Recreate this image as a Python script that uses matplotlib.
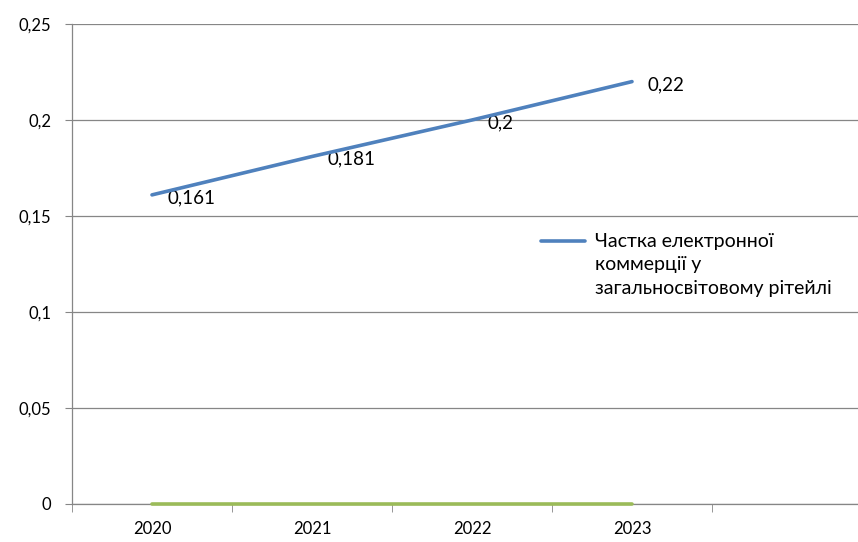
import matplotlib
matplotlib.use('Agg')
import matplotlib.pyplot as plt
from matplotlib.ticker import FuncFormatter, FixedLocator
from matplotlib.lines import Line2D

plt.rcParams['font.family'] = ['Lato', 'DejaVu Sans']

# ---- data ----
years = ['2020', '2021', '2022', '2023']
ecom_share = [0.161, 0.181, 0.2, 0.22]
zero_series = [0, 0, 0, 0]
legend_label = 'Частка електронної\nкоммерції у\nзагальносвітовому рітейлі'

BLUE = '#4F81BD'
GREEN = '#9BBB59'
GRID = '#868686'

fig = plt.figure(figsize=(8.58, 5.42), dpi=100)
W, H = 858, 542
ax = fig.add_axes([72 / W, (H - 504) / H, (W - 72) / W, 480 / H])

x = list(range(len(years)))
ax.plot(x, zero_series, color=GREEN, linewidth=2.6, solid_capstyle='round',
        zorder=3, clip_on=False)
ax.plot(x, ecom_share, color=BLUE, linewidth=2.6, solid_capstyle='round', zorder=4)

# data labels
for xi, v in zip(x, ecom_share):
    ax.annotate(f'{v:g}'.replace('.', ','), (xi, v), xytext=(11, -2),
                textcoords='offset points', ha='left', va='center', fontsize=13.5,
                color='black')

ax.set_xlim(-0.5, -0.5 + (W - 72) / 160)
ax.set_ylim(0, 0.25)

# y axis
ax.yaxis.set_major_locator(FixedLocator([0, 0.05, 0.1, 0.15, 0.2, 0.25]))
ax.yaxis.set_major_formatter(FuncFormatter(lambda v, p: f'{v:g}'.replace('.', ',')))
ax.tick_params(axis='y', length=5, color=GRID, pad=10, labelsize=12)
ax.grid(axis='y', color=GRID, linewidth=0.9)

# x axis: labels at category centers, tick marks at boundaries
ax.set_xticks(x)
ax.set_xticklabels(years)
ax.set_xticks([-0.5, 0.5, 1.5, 2.5, 3.5], minor=True)
ax.tick_params(axis='x', which='major', length=0, pad=12, labelsize=12)
ax.tick_params(axis='x', which='minor', length=6, color=GRID)

for s in ['top', 'right']:
    ax.spines[s].set_visible(False)
for s in ['left', 'bottom']:
    ax.spines[s].set_color(GRID)
    ax.spines[s].set_linewidth(0.9)
ax.set_axisbelow(True)

# legend (handle aligned with the first text line, as in Excel)
fig.add_artist(Line2D([541 / W, 585 / W], [(H - 241) / H, (H - 241) / H],
                      color=BLUE, linewidth=2.6, solid_capstyle='round'))
fig.text(595 / W, (H - 233) / H, legend_label, ha='left', va='top',
         fontsize=14, linespacing=1.45)

fig.savefig('out.png', dpi=100)
